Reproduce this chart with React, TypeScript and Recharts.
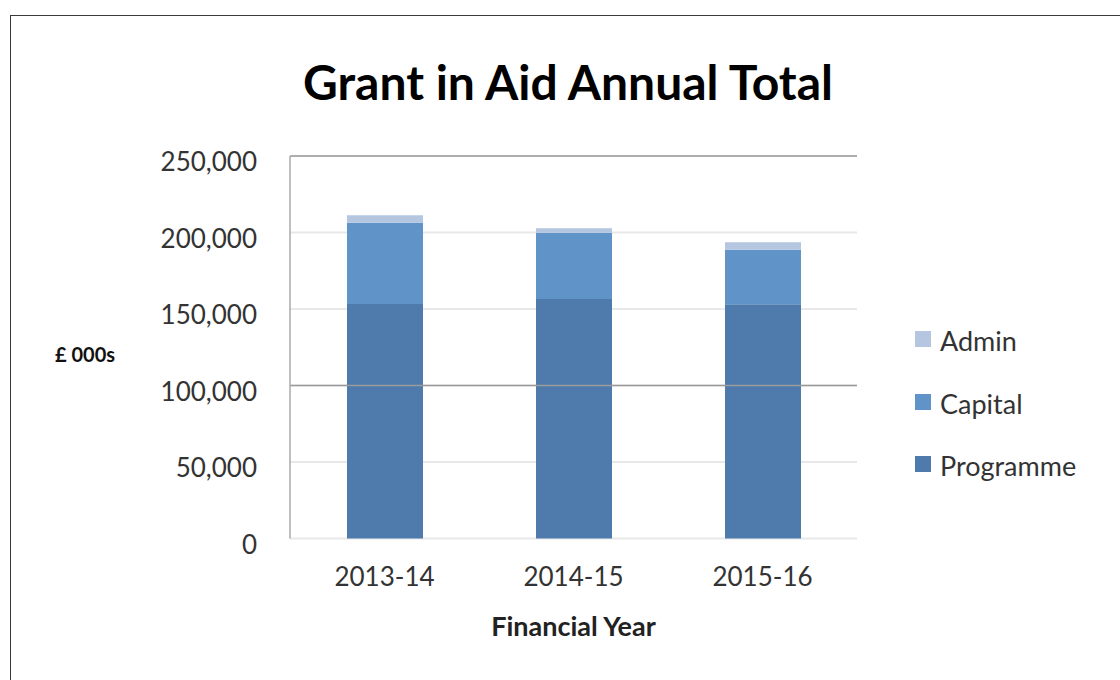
import React from 'react';
import { BarChart, Bar, XAxis, YAxis, CartesianGrid, ReferenceLine, Label } from 'recharts';

const years = ['2013-14', '2014-15', '2015-16'];
const programme = [153300, 156500, 153100];
const capital = [53100, 43400, 35700];
const admin = [4800, 2800, 4800];
const yTicks = [0, 50000, 100000, 150000, 200000, 250000];
const darkGridValues = [250000, 100000];

const series = [
  { key: 'Programme', values: programme, color: '#4E7BAB' },
  { key: 'Capital', values: capital, color: '#6094C8' },
  { key: 'Admin', values: admin, color: '#B4C6E0' },
];

const data = years.map((y, i) => ({
  year: y,
  Programme: programme[i],
  Capital: capital[i],
  Admin: admin[i],
}));

const FONT = 'Lato, "Open Sans", sans-serif';

const fmt = (v: number) => v.toLocaleString('en-GB');

const LegendBox = () => (
  <div style={{ position: 'absolute', left: 915, top: 325, fontFamily: FONT, fontSize: 27, color: '#333' }}>
    {[...series].reverse().map((s) => (
      <div key={s.key} style={{ position: 'relative', height: 62.5 }}>
        <div style={{ position: 'absolute', left: 0, top: 6, width: 16, height: 16, background: s.color }} />
        <span style={{ position: 'absolute', left: 25, top: 0, lineHeight: '32px', whiteSpace: 'nowrap' }}>{s.key}</span>
      </div>
    ))}
  </div>
);

export default function App() {
  return (
    <div style={{ position: 'absolute', left: 0, top: 0, width: 1120, height: 680, overflow: 'hidden', background: '#fff' }}>
      <div
        style={{
          position: 'absolute',
          left: 10,
          top: 15,
          width: 1200,
          height: 800,
          border: '1.5px solid #3a3a3a',
          boxSizing: 'border-box',
        }}
      />
      <div
        style={{
          position: 'absolute',
          left: 0,
          top: 53,
          width: 1136,
          textAlign: 'center',
          fontFamily: FONT,
          fontWeight: 700,
          fontSize: 48,
          lineHeight: 1.2,
          color: '#000',
        }}
      >
        Grant in Aid Annual Total
      </div>
      <div style={{ position: 'absolute', left: 0, top: 0 }}>
        <BarChart
          width={1120}
          height={680}
          data={data}
          margin={{ top: 156, right: 263, left: 0, bottom: 0 }}
          barSize={76}
        >
          <CartesianGrid vertical={false} stroke="#e8e8e8" strokeWidth={2} />
          <XAxis
            dataKey="year"
            axisLine={false}
            tickLine={false}
            tickSize={0}
            tickMargin={29}
            height={141.5}
            tick={{ fontFamily: FONT, fontSize: 26, fill: '#333' }}
          >
            <Label
              value="Financial Year"
              position="insideTop"
              offset={78}
              style={{ fontFamily: FONT, fontSize: 27, fontWeight: 700, fill: '#222' }}
            />
          </XAxis>
          <YAxis
            width={290}
            domain={[0, 250000]}
            ticks={yTicks}
            tickFormatter={fmt}
            axisLine={{ stroke: '#aaa', strokeWidth: 1.5 }}
            tickLine={false}
            tickSize={0}
            tickMargin={33}
            tick={{ fontFamily: FONT, fontSize: 26, fill: '#333', dy: 6 }}
          >
            <Label
              value="£ 000s"
              position="insideLeft"
              offset={55}
              dy={8}
              style={{ fontFamily: FONT, fontSize: 20, fontWeight: 700, fill: '#111', textAnchor: 'start' }}
            />
          </YAxis>
          {darkGridValues.map((v) => (
            <ReferenceLine key={v} y={v} stroke="#9a9a9a" strokeWidth={1.5} />
          ))}
          {series.map((s) => (
            <Bar key={s.key} dataKey={s.key} stackId="a" fill={s.color} isAnimationActive={false} />
          ))}
        </BarChart>
      </div>
      <LegendBox />
    </div>
  );
}
